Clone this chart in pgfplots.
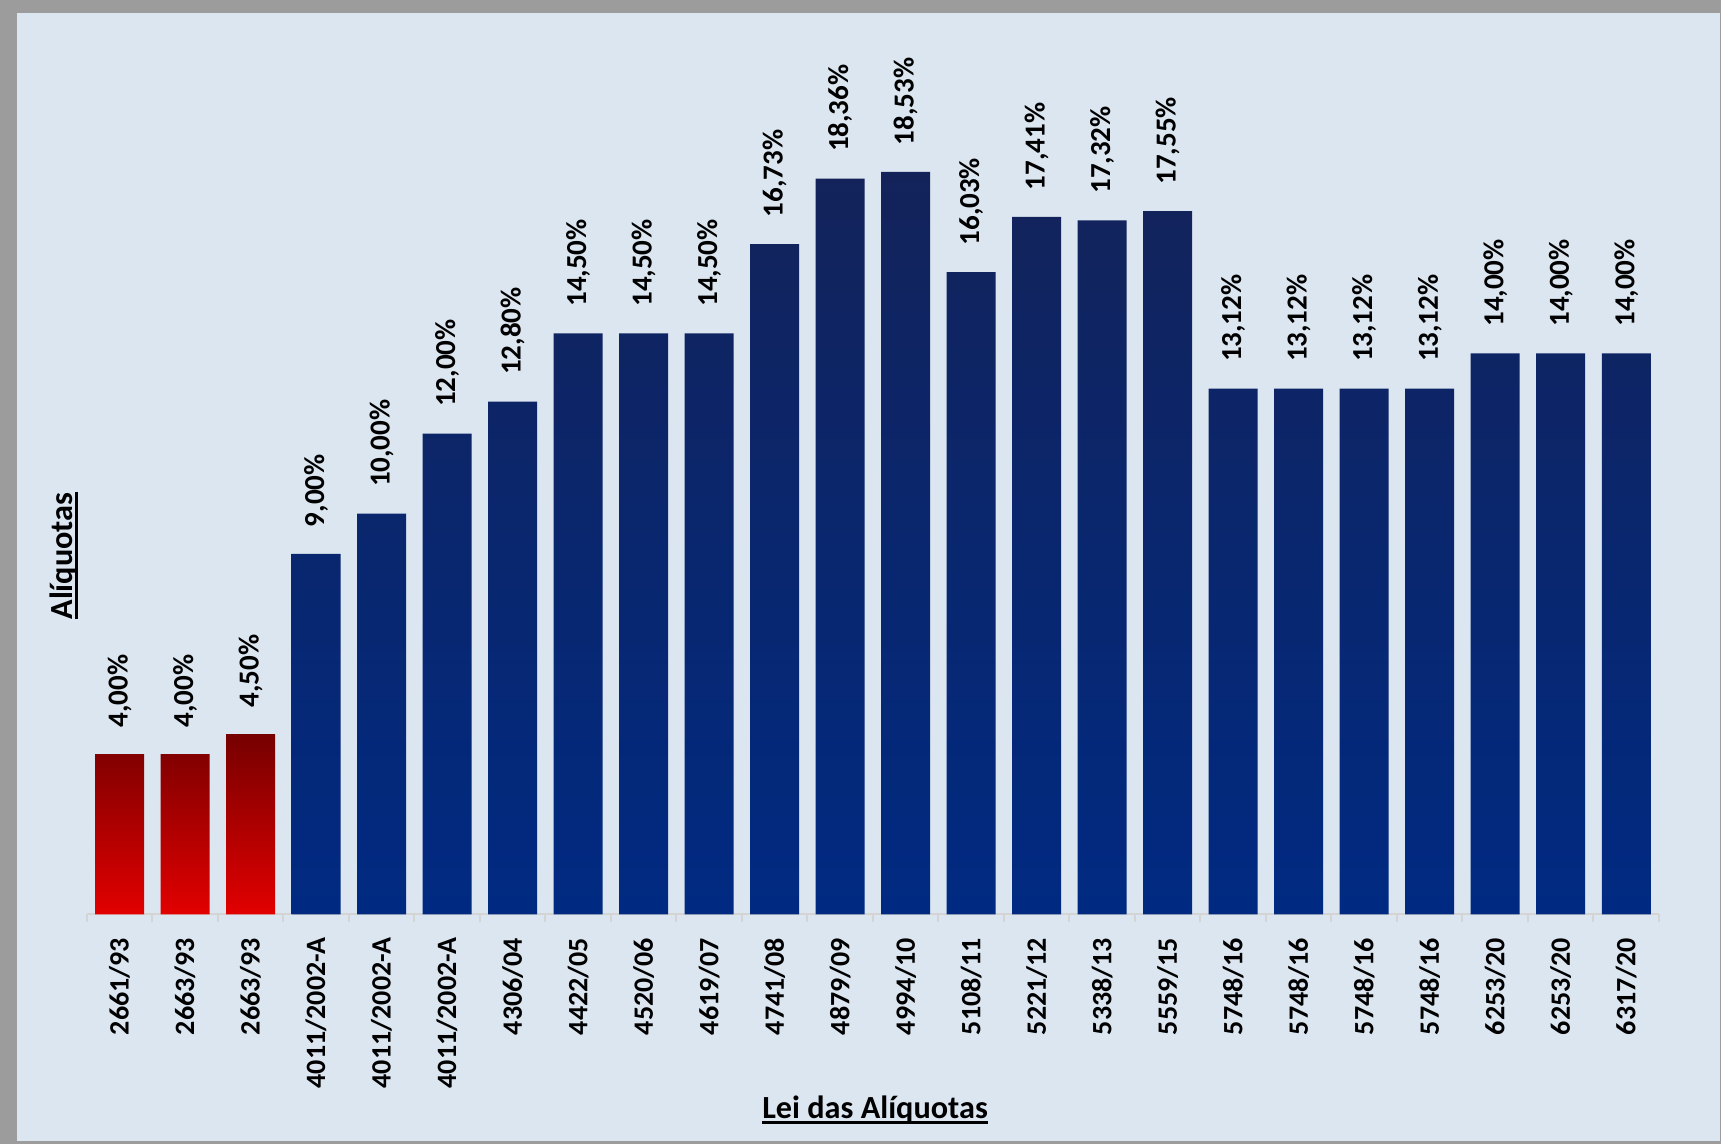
\documentclass[border=0pt]{standalone}
\usepackage{pgfplots}
\pgfplotsset{compat=1.18}
\usepackage{fontspec}
\setmainfont{Carlito}
\definecolor{bgblue}{HTML}{DCE6F1}
\definecolor{framegray}{HTML}{9C9C9C}
\definecolor{axgray}{HTML}{D4D4D4}
\definecolor{redtop}{HTML}{760000}
\definecolor{redbot}{HTML}{E20000}
\definecolor{bluetop}{HTML}{13235A}
\definecolor{bluemid}{HTML}{04297A}
\definecolor{bluebot}{HTML}{002A82}
\newcommand\ul[1]{\setbox0\hbox{#1}\rlap{\rule[-2.2pt]{\wd0}{1.4pt}}\box0}
\begin{document}
\begin{tikzpicture}
% frame and background, 1 px of the reference = 0.4pt
\fill[framegray] (0,0) rectangle (688.4pt,457.6pt);
\fill[bgblue] (6.8pt,1.2pt) rectangle (688.0pt,452.4pt);
\begin{axis}[
    at={(34.7pt,91.8pt)}, anchor=south west,
    scale only axis,
    width=628.9pt, height=320.6pt,
    xmin=-0.5, xmax=23.5,
    ymin=0, ymax=20,
    clip=false,
    hide y axis,
    axis x line*=bottom,
    x axis line style={draw=axgray, line width=0.8pt, -},
    xtick={0,...,23},
    major tick length=0pt,
    minor xtick={-0.5,0.5,...,23.5},
    minor tick length=3.2pt,
    tick align=outside,
    minor tick style={draw=axgray, line width=0.8pt},
    xticklabels={2661/93,2663/93,2663/93,4011/2002-A,4011/2002-A,4011/2002-A,4306/04,4422/05,4520/06,4619/07,4741/08,4879/09,4994/10,5108/11,5221/12,5338/13,5559/15,5748/16,5748/16,5748/16,5748/16,6253/20,6253/20,6317/20},
    xticklabel style={font=\fontsize{11.2}{13}\selectfont\bfseries, rotate=90, anchor=east, inner sep=0pt},
    xticklabel shift=9.2pt,
    ybar, bar width=19.6pt, bar shift=0pt,
    nodes near coords={\pgfmathprintnumber[fixed,fixed zerofill,precision=2,use comma,assume math mode=true]{\pgfplotspointmeta}\%},
    every node near coord/.append style={font=\fontsize{11.6}{13}\selectfont\bfseries, rotate=90, anchor=west, inner sep=0pt, inner xsep=10.5pt},
]
\addplot[draw=none, top color=redtop, bottom color=redbot] coordinates {
    (0,4.00) (1,4.00) (2,4.50)
};
\addplot[draw=none, top color=bluetop, middle color=bluemid, bottom color=bluebot] coordinates {
    (3,9.00) (4,10.00) (5,12.00) (6,12.80) (7,14.50) (8,14.50) (9,14.50)
    (10,16.73) (11,18.36) (12,18.53) (13,16.03) (14,17.41) (15,17.32) (16,17.55)
    (17,13.12) (18,13.12) (19,13.12) (20,13.12) (21,14.00) (22,14.00) (23,14.00)
};
\end{axis}
\node[rotate=90, anchor=base, font=\fontsize{12.9}{15}\selectfont\bfseries] at (29.1pt,235.2pt) {\ul{Alíquotas}};
\node[anchor=base, font=\fontsize{12.9}{15}\selectfont\bfseries] at (350pt,10pt) {\ul{Lei das Alíquotas}};
\pgfresetboundingbox
\path[use as bounding box] (0,0) rectangle (688.4pt,457.6pt);
\end{tikzpicture}
\end{document}
